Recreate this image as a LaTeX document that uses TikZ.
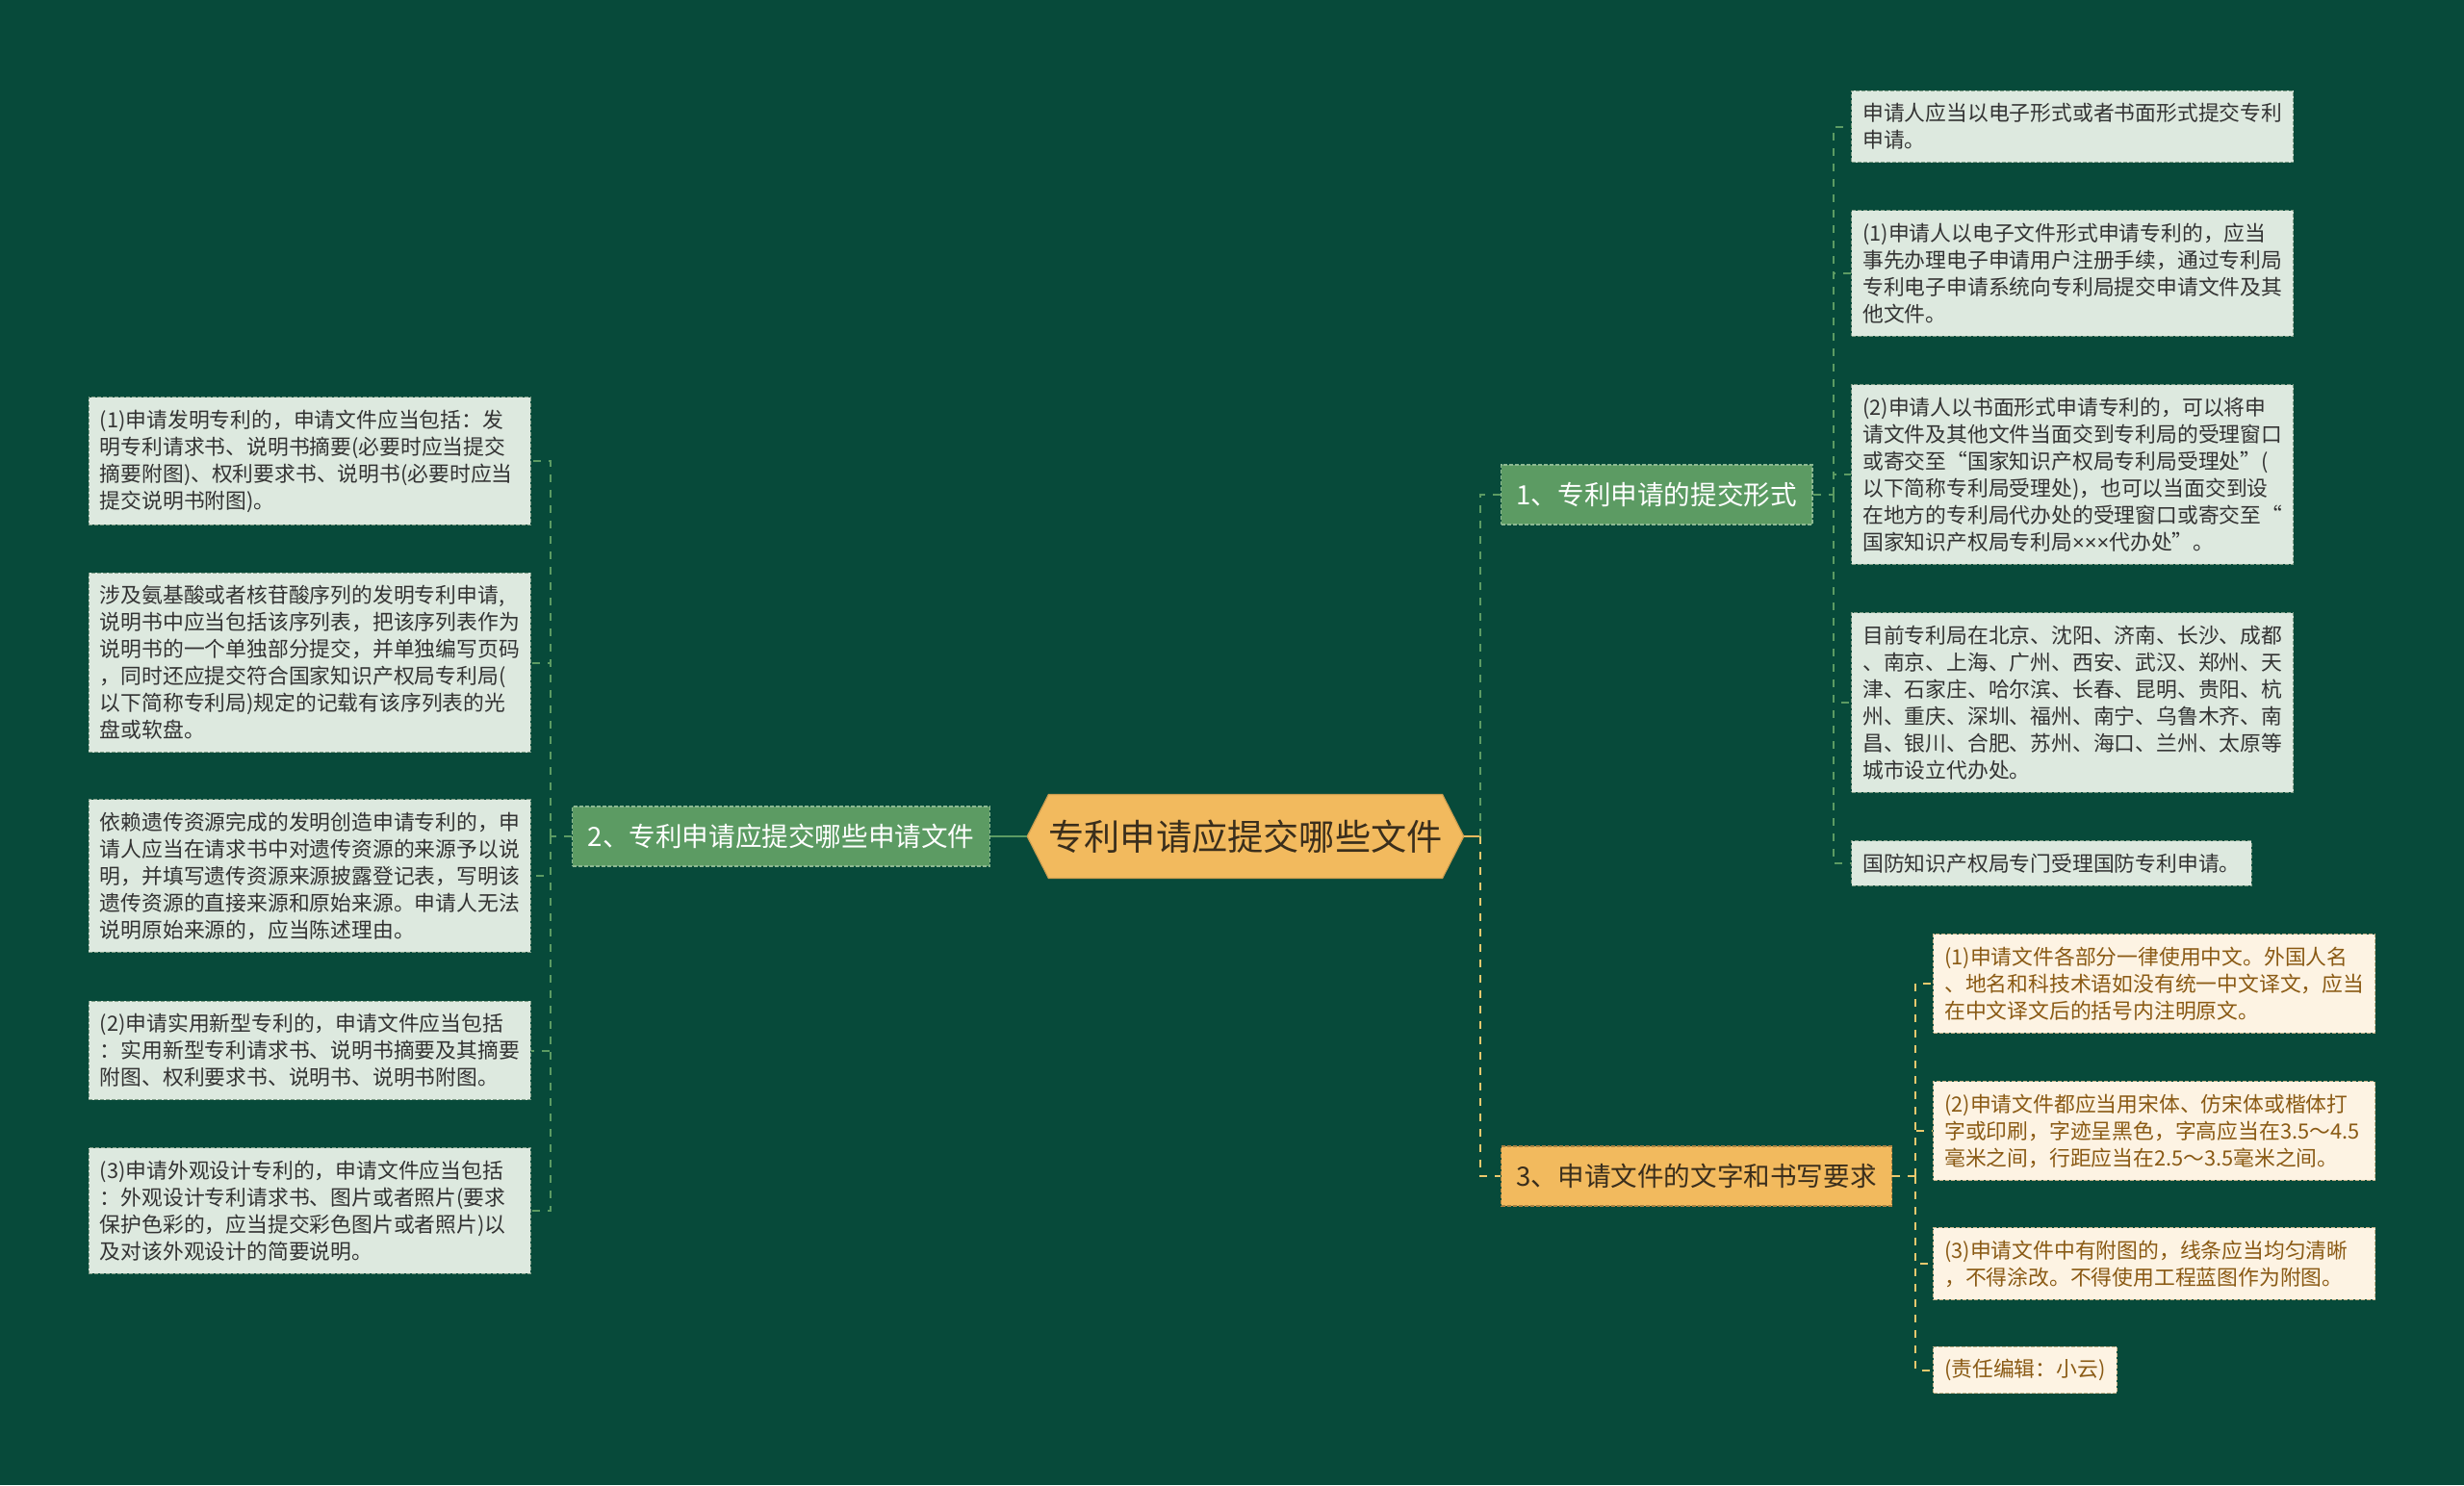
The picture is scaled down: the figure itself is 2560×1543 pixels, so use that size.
\documentclass[tikz,border=0pt]{standalone}
\usepackage{fontspec}
\setmainfont{Noto Sans CJK SC}
\newfontfamily\latinfont{Liberation Sans}
\usepackage{xcolor}
\usetikzlibrary{shapes.symbols}

\definecolor{bgGreen}{HTML}{074A3A}
\definecolor{midGreen}{HTML}{5C9B63}
\definecolor{hexOrange}{HTML}{F2BA5E}
\definecolor{darkText}{HTML}{3A2E1C}
\definecolor{noteGreen}{HTML}{DDE9DF}
\definecolor{noteGreenEdge}{HTML}{7E9C86}
\definecolor{noteCream}{HTML}{FDF3E3}
\definecolor{noteCreamEdge}{HTML}{C9B48A}
\definecolor{creamText}{HTML}{8A5A14}
\definecolor{linkYellow}{HTML}{EAC96E}

\begin{document}
\begin{tikzpicture}[
  x=0.5pt, y=-0.5pt,
  topic/.style={signal, signal to=east and west, signal pointer angle=126,
                fill=hexOrange, draw=hexOrange!85!black, line width=0.6pt,
                minimum width=224.5pt, minimum height=43.5pt, inner sep=0pt,
                font=\fontsize{18.6}{22}\selectfont, text=darkText},
  branch/.style={dash pattern=on 2pt off 1pt, line width=0.6pt,
                 minimum height=31pt, inner xsep=8pt, inner ysep=0pt,
                 font=\fontsize{13.8}{16}\selectfont},
  greenbranch/.style={branch, fill=midGreen, draw=midGreen!70!white, text=white},
  orangebranch/.style={branch, fill=hexOrange, draw=hexOrange!70!black, text=darkText},
  note/.style={dash pattern=on 2pt off 1pt, line width=0.6pt, align=left,
               inner xsep=5.8pt, inner ysep=6.5pt,
               font=\fontsize{10.9}{14}\selectfont},
  greennote/.style={note, fill=noteGreen, draw=noteGreenEdge, text=black!80},
  creamnote/.style={note, fill=noteCream, draw=noteCreamEdge, text=creamText},
  wide/.style={text width=218pt},
  link/.style={line width=1pt, dash pattern=on 4pt off 4pt},
  greenlink/.style={link, draw=midGreen},
  yellowlink/.style={link, draw=linkYellow}
]
  % background and page size
  \fill[bgGreen] (0,0) rectangle (2560,1543);
  \useasboundingbox (0,0) rectangle (2560,1543);

  % centre and main branches
  \node[topic] (root) at (1294,869) {专利申请应提交哪些文件};
  \node[greenbranch, anchor=west] (form) at (1559,514) {1、专利申请的提交形式};
  \node[greenbranch, anchor=east] (docs) at (1029,869) {2、专利申请应提交哪些申请文件};
  \node[orangebranch, anchor=west] (rules) at (1559,1222) {3、申请文件的文字和书写要求};

  % branch 1 notes
  \node[greennote, wide, anchor=west] (formA) at (1923,131.5)
    {申请人应当以电子形式或者书面形式提交专利\\申请。};
  \node[greennote, wide, anchor=west] (formB) at (1923,284)
    {(1)申请人以电子文件形式申请专利的，应当\\事先办理电子申请用户注册手续，通过专利局\\专利电子申请系统向专利局提交申请文件及其\\他文件。};
  \node[greennote, wide, anchor=west] (formC) at (1923,493)
    {(2)申请人以书面形式申请专利的，可以将申\\请文件及其他文件当面交到专利局的受理窗口\\或寄交至“国家知识产权局专利局受理处”(\\以下简称专利局受理处)，也可以当面交到设\\在地方的专利局代办处的受理窗口或寄交至“\\国家知识产权局专利局{\latinfont ×××}代办处”。};
  \node[greennote, wide, anchor=west] (formD) at (1923,730)
    {目前专利局在北京、沈阳、济南、长沙、成都\\、南京、上海、广州、西安、武汉、郑州、天\\津、石家庄、哈尔滨、长春、昆明、贵阳、杭\\州、重庆、深圳、福州、南宁、乌鲁木齐、南\\昌、银川、合肥、苏州、海口、兰州、太原等\\城市设立代办处。};
  \node[greennote, anchor=west] (formE) at (1923,897)
    {国防知识产权局专门受理国防专利申请。};

  % branch 2 notes
  \node[greennote, wide, anchor=east] (docsA) at (552,479)
    {(1)申请发明专利的，申请文件应当包括：发\\明专利请求书、说明书摘要(必要时应当提交\\摘要附图)、权利要求书、说明书(必要时应当\\提交说明书附图)。};
  \node[greennote, wide, anchor=east] (docsB) at (552,688.5)
    {涉及氨基酸或者核苷酸序列的发明专利申请,\\说明书中应当包括该序列表，把该序列表作为\\说明书的一个单独部分提交，并单独编写页码\\，同时还应提交符合国家知识产权局专利局(\\以下简称专利局)规定的记载有该序列表的光\\盘或软盘。};
  \node[greennote, wide, anchor=east] (docsC) at (552,910)
    {依赖遗传资源完成的发明创造申请专利的，申\\请人应当在请求书中对遗传资源的来源予以说\\明，并填写遗传资源来源披露登记表，写明该\\遗传资源的直接来源和原始来源。申请人无法\\说明原始来源的，应当陈述理由。};
  \node[greennote, wide, anchor=east] (docsD) at (552,1091.5)
    {(2)申请实用新型专利的，申请文件应当包括\\：实用新型专利请求书、说明书摘要及其摘要\\附图、权利要求书、说明书、说明书附图。};
  \node[greennote, wide, anchor=east] (docsE) at (552,1258)
    {(3)申请外观设计专利的，申请文件应当包括\\：外观设计专利请求书、图片或者照片(要求\\保护色彩的，应当提交彩色图片或者照片)以\\及对该外观设计的简要说明。};

  % branch 3 notes
  \node[creamnote, wide, anchor=west] (rulesA) at (2008,1022)
    {(1)申请文件各部分一律使用中文。外国人名\\、地名和科技术语如没有统一中文译文，应当\\在中文译文后的括号内注明原文。};
  \node[creamnote, wide, anchor=west] (rulesB) at (2008,1175)
    {(2)申请文件都应当用宋体、仿宋体或楷体打\\字或印刷，字迹呈黑色，字高应当在3.5～4.5\\毫米之间，行距应当在2.5～3.5毫米之间。};
  \node[creamnote, wide, anchor=west] (rulesC) at (2008,1313)
    {(3)申请文件中有附图的，线条应当均匀清晰\\，不得涂改。不得使用工程蓝图作为附图。};
  \node[creamnote, anchor=west] (rulesD) at (2008,1423.5)
    {(责任编辑：小云)};

  % junction points
  \coordinate (hubroot) at (1538,869);
  \coordinate (hubform) at (1905,514);
  \coordinate (hubdocs) at (572,869);
  \coordinate (hubrules) at (1990,1222);

  % connectors
  \draw[midGreen, line width=1pt] (root.west) -- (docs.east);
  \draw[hexOrange, line width=1pt] (root.east) -- (hubroot);
  \draw[greenlink] (hubroot) |- (form.west);
  \draw[yellowlink] (hubroot) |- (rules.west);

  \draw[greenlink] (form.east) -- (hubform);
  \foreach \leaf in {formA,formB,formC,formD,formE}
    \draw[greenlink] (hubform) |- (\leaf.west);

  \draw[greenlink] (docs.west) -- (hubdocs);
  \foreach \leaf in {docsA,docsB,docsC,docsD,docsE}
    \draw[greenlink] (hubdocs) |- (\leaf.east);

  \draw[yellowlink] (rules.east) -- (hubrules);
  \foreach \leaf in {rulesA,rulesB,rulesC,rulesD}
    \draw[yellowlink] (hubrules) |- (\leaf.west);
\end{tikzpicture}
\end{document}
